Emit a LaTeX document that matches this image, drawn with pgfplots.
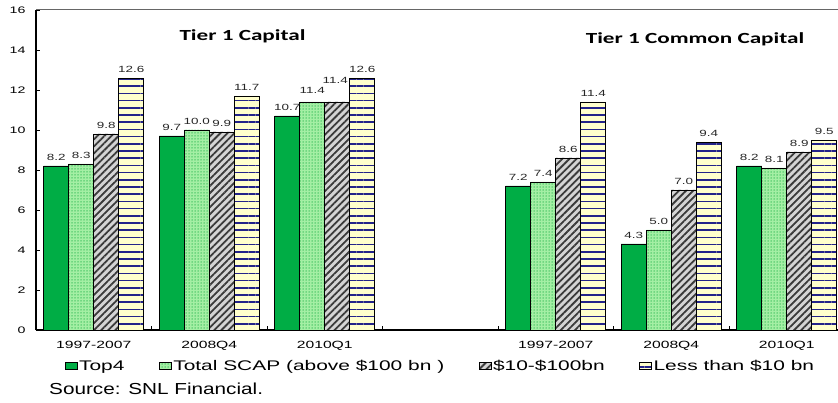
\documentclass[border=0pt]{standalone}
\usepackage{pgfplots}
\pgfplotsset{compat=1.18}
\usetikzlibrary{patterns.meta}
\usepackage{fontspec}
\setmainfont{Liberation Sans}[FakeStretch=1.5]
\newfontfamily\srcfont{Liberation Sans}[FakeStretch=1.3]
\newfontfamily\ttlfont{Carlito}[FakeStretch=1.5]

\definecolor{topgreen}{HTML}{00AD45}
\definecolor{scapbg}{HTML}{A4EFA4}
\definecolor{scapdot}{HTML}{3CBF5C}
\definecolor{hatchbg}{HTML}{D4D4D4}
\definecolor{hatchfg}{HTML}{3A3A3A}
\definecolor{smallbg}{HTML}{FFFFCC}
\definecolor{smallfg}{HTML}{23238A}

\begin{document}
\begin{tikzpicture}
\begin{axis}[
  at={(36bp,73bp)}, anchor=south west,
  scale only axis, width=802bp, height=320bp,
  xmin=-0.5, xmax=6.4437, ymin=0, ymax=16,
  axis x line*=bottom, axis y line*=left,
  axis line style={black, line width=1.2bp},
  ybar, bar width=0.2165,
  xtick={0,1,2,4,5,6},
  xticklabels={1997-2007,2008Q4,2010Q1,1997-2007,2008Q4,2010Q1},
  minor xtick={0.5,1.5,2.5,3.5,4.5,5.5},
  major x tick style={draw=none},
  ytick={0,2,...,16},
  tick align=inside, major tick length=4bp, minor tick length=4bp,
  tick style={black, line width=0.8bp},
  /pgf/number format/assume math mode=true,
  xticklabel style={font=\fontsize{10.5}{12}\selectfont, yshift=-8bp},
  yticklabel style={font=\fontsize{9.5}{11}\selectfont, xshift=-7bp},
  every node near coord/.append style={font=\fontsize{9}{10}\selectfont, text=black!85, inner sep=2.5bp, yshift=3bp},
  nodes near coords={\pgfmathprintnumber[fixed,fixed zerofill,precision=1]{\pgfplotspointmeta}},
  legend columns=4,
  legend style={at={(0.504,-0.1125)}, anchor=center, draw=none,
    font=\fontsize{14}{16}\selectfont, inner sep=0pt,
    /tikz/every even column/.append style={column sep=33bp},
    nodes={inner sep=1.5bp}},
  legend image code/.code={\draw[#1, line width=0.8bp] (0bp,-3.5bp) rectangle (12bp,3.5bp);},
]
% Top4
\addplot[fill=topgreen, draw=black, line width=0.8bp, bar shift=-0.32475]
  coordinates {(0,8.2) (1,9.7) (2,10.7) (4,7.2) (5,4.3) (6,8.2)};
% Total SCAP (above $100 bn)
\addplot[fill=scapbg, draw=black, line width=0.8bp, bar shift=-0.10825,
  postaction={pattern={Dots[distance=3bp, radius=0.75bp]}, pattern color=scapdot},
  coordinate style/.condition={x==2}{yshift=3bp}]
  coordinates {(0,8.3) (1,10.0) (2,11.4) (4,7.4) (5,5.0) (6,8.1)};
% $10-$100bn
\addplot[fill=hatchbg, draw=black, line width=0.8bp, bar shift=0.10825,
  postaction={pattern={Lines[angle=45, distance=5bp, line width=1.8bp]}, pattern color=hatchfg},
  coordinate style/.condition={x==2}{xshift=-2bp, yshift=13bp}]
  coordinates {(0,9.8) (1,9.9) (2,11.4) (4,8.6) (5,7.0) (6,8.9)};
% Less than $10 bn
\addplot[fill=smallbg, draw=black, line width=0.8bp, bar shift=0.32475,
  postaction={pattern={Lines[angle=0, distance=7.2bp, line width=1.6bp]}, pattern color=smallfg}]
  coordinates {(0,12.6) (1,11.7) (2,12.6) (4,11.4) (5,9.4) (6,9.5)};
\legend{Top4, Total SCAP (above \$100 bn ), \$10-\$100bn, Less than \$10 bn}

\draw[black!60, line width=1bp] (rel axis cs:0,1) -- (rel axis cs:1,1);
\node[font=\ttlfont\bfseries\fontsize{15.5}{17}\selectfont] at (axis cs:1.288,14.7) {Tier 1 Capital};
\node[font=\ttlfont\bfseries\fontsize{15.5}{17}\selectfont] at (axis cs:5.206,14.55) {Tier 1 Common Capital};
\end{axis}
\node[anchor=base west, font=\srcfont\fontsize{16}{18}\selectfont, inner sep=0pt] at (49bp,9bp) {Source: SNL Financial.};
\pgfresetboundingbox
\useasboundingbox (0,0) rectangle (838bp,403bp);
\end{tikzpicture}
\end{document}
